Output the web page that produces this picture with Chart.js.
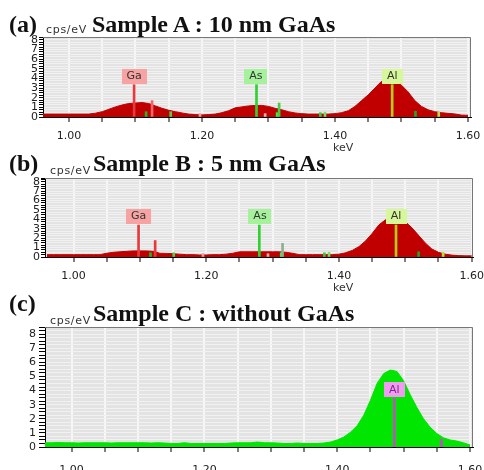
<!DOCTYPE html>
<html>
<head>
<meta charset="utf-8">
<script src="https://cdn.jsdelivr.net/npm/chart.js@4.4.0/dist/chart.umd.min.js"></script>
<style>
  body { margin: 0; background: #fff; }
  #wrap { position: relative; width: 484px; height: 470px; overflow: hidden; }
  canvas { position: absolute; left: 0; }
  .t { position: absolute; white-space: nowrap; line-height: 1; }
  .big { font: bold 24px "Liberation Serif", "Times New Roman", serif; color: #111; }
  .unit { font: 11px "DejaVu Sans", sans-serif; color: #333; letter-spacing: 0.7px; }
  .kev { font: 11px "DejaVu Sans", sans-serif; color: #333; }
</style>
</head>
<body>
<div id="wrap">
  <canvas id="chartA" width="484" height="150" style="top:0"></canvas>
  <canvas id="chartB" width="484" height="140" style="top:150px"></canvas>
  <canvas id="chartC" width="484" height="180" style="top:290px"></canvas>

  <div class="t big" style="left:9px;top:11px">(a)</div>
  <div class="t unit" style="left:46px;top:23px">cps/eV</div>
  <div class="t big" style="left:92px;top:11px">Sample A : 10 nm GaAs</div>
  <div class="t kev" style="left:333px;top:141px">keV</div>

  <div class="t big" style="left:9px;top:150px">(b)</div>
  <div class="t unit" style="left:50px;top:164px">cps/eV</div>
  <div class="t big" style="left:93px;top:150px">Sample B : 5 nm GaAs</div>
  <div class="t kev" style="left:333px;top:281px">keV</div>

  <div class="t big" style="left:9px;top:290px">(c)</div>
  <div class="t unit" style="left:50px;top:314px">cps/eV</div>
  <div class="t big" style="left:93px;top:300px">Sample C : without GaAs</div>
</div>

<script>
// energy axis (keV), one channel every 10 eV
const energy = [0.96, 0.97, 0.98, 0.99, 1.00, 1.01, 1.02, 1.03, 1.04, 1.05,
  1.06, 1.07, 1.08, 1.09, 1.10, 1.11, 1.12, 1.13, 1.14, 1.15,
  1.16, 1.17, 1.18, 1.19, 1.20, 1.21, 1.22, 1.23, 1.24, 1.25,
  1.26, 1.27, 1.28, 1.29, 1.30, 1.31, 1.32, 1.33, 1.34, 1.35,
  1.36, 1.37, 1.38, 1.39, 1.40, 1.41, 1.42, 1.43, 1.44, 1.45,
  1.46, 1.47, 1.48, 1.49, 1.50, 1.51, 1.52, 1.53, 1.54, 1.55,
  1.56, 1.57, 1.58, 1.59, 1.60];

// x ticks every 50 eV, labelled every 200 eV
const keVTicks = [1.00, 1.05, 1.10, 1.15, 1.20, 1.25, 1.30, 1.35, 1.40, 1.45, 1.50, 1.55, 1.60];
const keVLabels = ['1.00', '1.20', '1.40', '1.60'];

// counts (cps/eV)
const spectrumA = [0.3, 0.3, 0.3, 0.3, 0.3, 0.3, 0.3, 0.3, 0.4, 0.55,
  0.8, 1.05, 1.25, 1.4, 1.45, 1.5, 1.4, 1.15, 0.9, 0.7,
  0.55, 0.42, 0.3, 0.25, 0.22, 0.25, 0.3, 0.45, 0.65, 0.95,
  1.05, 1.15, 1.2, 1.2, 1.1, 0.9, 0.75, 0.55, 0.42, 0.35,
  0.3, 0.3, 0.3, 0.3, 0.35, 0.45, 0.65, 1.1, 1.7, 2.3,
  3.0, 3.7, 3.9, 3.9, 3.3, 2.6, 1.7, 1.1, 0.75, 0.55,
  0.45, 0.38, 0.32, 0.2, 0.18];

const spectrumB = [0.25, 0.25, 0.25, 0.25, 0.25, 0.25, 0.25, 0.25, 0.25, 0.4,
  0.5, 0.55, 0.6, 0.65, 0.65, 0.65, 0.6, 0.4, 0.38, 0.35,
  0.3, 0.25, 0.25, 0.22, 0.22, 0.25, 0.25, 0.3, 0.4, 0.55,
  0.55, 0.55, 0.55, 0.55, 0.55, 0.55, 0.5, 0.4, 0.25, 0.25,
  0.25, 0.25, 0.25, 0.25, 0.3, 0.45, 0.7, 1.1, 1.7, 2.5,
  3.4, 3.95, 4.15, 4.15, 3.75, 3.1, 2.3, 1.5, 0.85, 0.5,
  0.3, 0.2, 0.15, 0.12, 0.12];

const spectrumC = [0.3, 0.3, 0.32, 0.3, 0.3, 0.28, 0.3, 0.3, 0.3, 0.3,
  0.28, 0.3, 0.3, 0.3, 0.3, 0.3, 0.28, 0.3, 0.28, 0.25,
  0.25, 0.3, 0.25, 0.25, 0.25, 0.25, 0.25, 0.25, 0.28, 0.3,
  0.3, 0.3, 0.35, 0.3, 0.3, 0.28, 0.25, 0.25, 0.28, 0.25,
  0.25, 0.25, 0.28, 0.35, 0.5, 0.7, 1.05, 1.5, 2.25, 3.3,
  4.5, 5.2, 5.45, 5.35, 4.7, 3.7, 2.8, 2.0, 1.4, 0.95,
  0.65, 0.5, 0.42, 0.3, 0.15];

// element marker lines
const markerEnergyA = [1.098, 1.116, 1.125, 1.153, 1.197, 1.282, 1.295, 1.313, 1.316, 1.378, 1.385, 1.486, 1.521, 1.556];
const markerHeightA = [3.35, 0.55, 1.7, 0.55, 0.35, 3.35, 0.35, 0.45, 1.45, 0.45, 0.5, 3.35, 0.6, 0.5];
const markerColorA = ['#e8393c', '#22b822', '#f0646a', '#56d040', '#f39a9a', '#2fd22f', '#f2a8a8', '#3aee3a',
  '#44cc44', '#3cc83c', '#78e060', '#b6cc1c', '#1ea81e', '#b4e040'];

const markerEnergyB = [1.098, 1.116, 1.123, 1.151, 1.195, 1.28, 1.293, 1.313, 1.315, 1.378, 1.385, 1.486, 1.52, 1.557];
const markerHeightB = [3.4, 0.45, 1.75, 0.45, 0.35, 3.4, 0.35, 0.45, 1.45, 0.45, 0.5, 3.4, 0.55, 0.5];
const markerColorB = ['#e8393c', '#22b822', '#e83a3a', '#56d040', '#f39a9a', '#2fd22f', '#f2a8a8', '#3aee3a',
  '#8cb08c', '#3cc83c', '#78e060', '#b6cc1c', '#1ea81e', '#b4e040'];

const markerEnergyC = [1.486, 1.557];
const markerHeightC = [3.45, 0.55];
const markerColorC = ['#c050c0', '#c050c0'];

// element labels
const labelNamesAB = ['Ga', 'As', 'Al'];
const labelEnergyAB = [1.098, 1.281, 1.486];
const labelHeightA = [3.35, 3.35, 3.35];
const labelHeightB = [3.4, 3.4, 3.4];
const labelColorAB = ['#f7a3a3', '#a6f29c', '#d6f79a'];
const labelNamesC = ['Al'];
const labelEnergyC = [1.486];
const labelHeightC = [3.45];
const labelColorC = ['#f29af2'];

function edsPanel(id, o) {
  const deco = {
    id: 'deco',
    beforeDraw(chart) {
      const a = chart.chartArea, ctx = chart.ctx;
      ctx.save();
      ctx.fillStyle = '#e3e3e3';
      ctx.fillRect(a.left, a.top, a.right - a.left, a.bottom - a.top);
      ctx.restore();
    },
    afterDatasetsDraw(chart) {
      const ctx = chart.ctx, x = chart.scales.x, y = chart.scales.y;
      ctx.save();
      ctx.font = '11px "DejaVu Sans"';
      ctx.textAlign = 'center';
      ctx.textBaseline = 'middle';
      o.labels.forEach((name, i) => {
        const px = x.getPixelForValue(o.labelE[i]);
        const py = y.getPixelForValue(o.labelH[i]);
        const w = Math.round(ctx.measureText(name).width + 10);
        ctx.fillStyle = o.labelBg[i];
        ctx.fillRect(Math.round(px - w / 2), Math.round(py - 16), w, 15);
        ctx.fillStyle = o.labelInk;
        ctx.fillText(name, px, py - 8.5);
      });
      ctx.restore();
    },
    afterDraw(chart) {
      const a = chart.chartArea, ctx = chart.ctx;
      ctx.save();
      ctx.strokeStyle = '#777';
      ctx.lineWidth = 1;
      ctx.beginPath();
      ctx.moveTo(a.left, a.top + 0.5);
      ctx.lineTo(a.right - 0.5, a.top + 0.5);
      ctx.lineTo(a.right - 0.5, a.bottom);
      ctx.stroke();
      ctx.restore();
    }
  };

  new Chart(document.getElementById(id), {
    type: 'line',
    data: {
      datasets: [
        {
          type: 'bar',
          label: 'lines',
          data: o.markerE.map((e, i) => ({ x: e, y: o.markerH[i] })),
          backgroundColor: o.markerC,
          barThickness: 2,
          grouped: false,
          order: 0
        },
        {
          type: 'line',
          label: 'spectrum',
          data: energy.map((e, i) => ({ x: e, y: o.counts[i] })),
          borderColor: o.fill,
          backgroundColor: o.fill,
          borderWidth: 1,
          fill: 'origin',
          pointRadius: 0,
          tension: 0,
          order: 1
        }
      ]
    },
    options: {
      responsive: false,
      animation: false,
      layout: { padding: { top: o.top, right: o.right, left: 0, bottom: 0 } },
      plugins: { legend: { display: false }, tooltip: { enabled: false } },
      scales: {
        x: {
          type: 'linear',
          min: o.xmin, max: o.xmax, bounds: 'data', offset: false,
          afterFit(s) { s.height = o.xh; s.paddingLeft = 0; s.paddingRight = 0; },
          afterBuildTicks(s) { s.ticks = keVTicks.map(v => ({ value: v })); },
          ticks: {
            autoSkip: false, maxRotation: 0,
            padding: o.xpad, color: '#222', font: { family: 'DejaVu Sans', size: 11 },
            callback: v => {
              const s = v.toFixed(2);
              return keVLabels.includes(s) ? s : '';
            }
          },
          grid: { offset: false, color: '#f7f7f7', lineWidth: 2, tickLength: 5, tickColor: '#000', tickWidth: 1 },
          border: { color: '#000' }
        },
        y: {
          min: 0, max: o.ymax, bounds: 'data',
          afterFit(s) { s.width = o.yw; s.paddingTop = 0; s.paddingBottom = 0; },
          ticks: {
            stepSize: 0.25, includeBounds: false, autoSkip: false,
            padding: o.ypad, color: '#222', font: { family: 'DejaVu Sans', size: 11 },
            callback: v => Math.abs(v - Math.round(v)) < 1e-6 ? String(Math.round(v)) : ''
          },
          grid: { color: '#f1f1f1', lineWidth: 1, tickLength: o.ytick, tickColor: '#000' },
          border: { color: '#000' }
        }
      }
    },
    plugins: [deco]
  });
}

edsPanel('chartA', {
  counts: spectrumA, fill: '#c00000',
  markerE: markerEnergyA, markerH: markerHeightA, markerC: markerColorA,
  labels: labelNamesAB, labelE: labelEnergyAB, labelH: labelHeightA, labelBg: labelColorAB, labelInk: '#333',
  top: 37, right: 13, yw: 43, xh: 33, xmin: 0.961, xmax: 1.6045, ymax: 8.3, xpad: 8, ytick: 4, ypad: 1
});

edsPanel('chartB', {
  counts: spectrumB, fill: '#c00000',
  markerE: markerEnergyB, markerH: markerHeightB, markerC: markerColorB,
  labels: labelNamesAB, labelE: labelEnergyAB, labelH: labelHeightB, labelBg: labelColorAB, labelInk: '#333',
  top: 28, right: 11, yw: 45, xh: 33, xmin: 0.957, xmax: 1.602, ymax: 8.4, xpad: 8, ytick: 4, ypad: 1
});

edsPanel('chartC', {
  counts: spectrumC, fill: '#00e600',
  markerE: markerEnergyC, markerH: markerHeightC, markerC: markerColorC,
  labels: labelNamesC, labelE: labelEnergyC, labelH: labelHeightC, labelBg: labelColorC, labelInk: '#7a2a8a',
  top: 37, right: 11, yw: 45, xh: 23, xmin: 0.96, xmax: 1.6045, ymax: 8.5, xpad: 12, ytick: 6, ypad: 3
});
</script>
</body>
</html>
